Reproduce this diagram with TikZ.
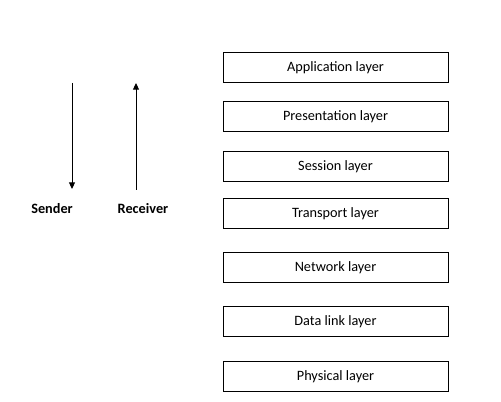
\documentclass[tikz,border=0pt]{standalone}
\usepackage{fontspec}
\setmainfont{Carlito}
\usetikzlibrary{arrows.meta}
\begin{document}
\begin{tikzpicture}[x=0.75pt,y=-0.75pt,
  layerbox/.style={draw=black,line width=0.75pt,minimum width=225*0.75pt,minimum height=30*0.75pt,inner sep=0pt,font=\fontsize{10.7}{12}\selectfont},
  lbl/.style={font=\fontsize{10.7}{12}\selectfont\bfseries,inner sep=0pt},
  arr/.style={line width=0.75pt,-{Triangle[length=5pt,width=4.5pt]}}]
\useasboundingbox (0,0) rectangle (501,402);
\node[layerbox] (app) at (335.5,68) {\raisebox{-0.75pt}{Application layer}};
\node[layerbox] (pres) at (335.5,117) {\raisebox{-0.75pt}{Presentation layer}};
\node[layerbox] (sess) at (335.5,167) {\raisebox{-0.75pt}{Session layer}};
\node[layerbox] (trans) at (335.5,214) {\raisebox{-0.75pt}{Transport layer}};
\node[layerbox] (net) at (335.5,267.5) {\raisebox{-0.75pt}{Network layer}};
\node[layerbox] (dl) at (335.5,321.5) {\raisebox{-0.75pt}{Data link layer}};
\node[layerbox] (phys) at (335.5,377) {\raisebox{-0.75pt}{Physical layer}};
\node[lbl] (sender) at (52,209) {Sender};
\node[lbl] (receiver) at (143,209) {Receiver};
\coordinate (s1) at (72,83);
\coordinate (s2) at (72,189);
\coordinate (r1) at (136,190);
\coordinate (r2) at (136,83);
\draw[arr] (s1) -- (s2);
\draw[arr] (r1) -- (r2);
\end{tikzpicture}
\end{document}
